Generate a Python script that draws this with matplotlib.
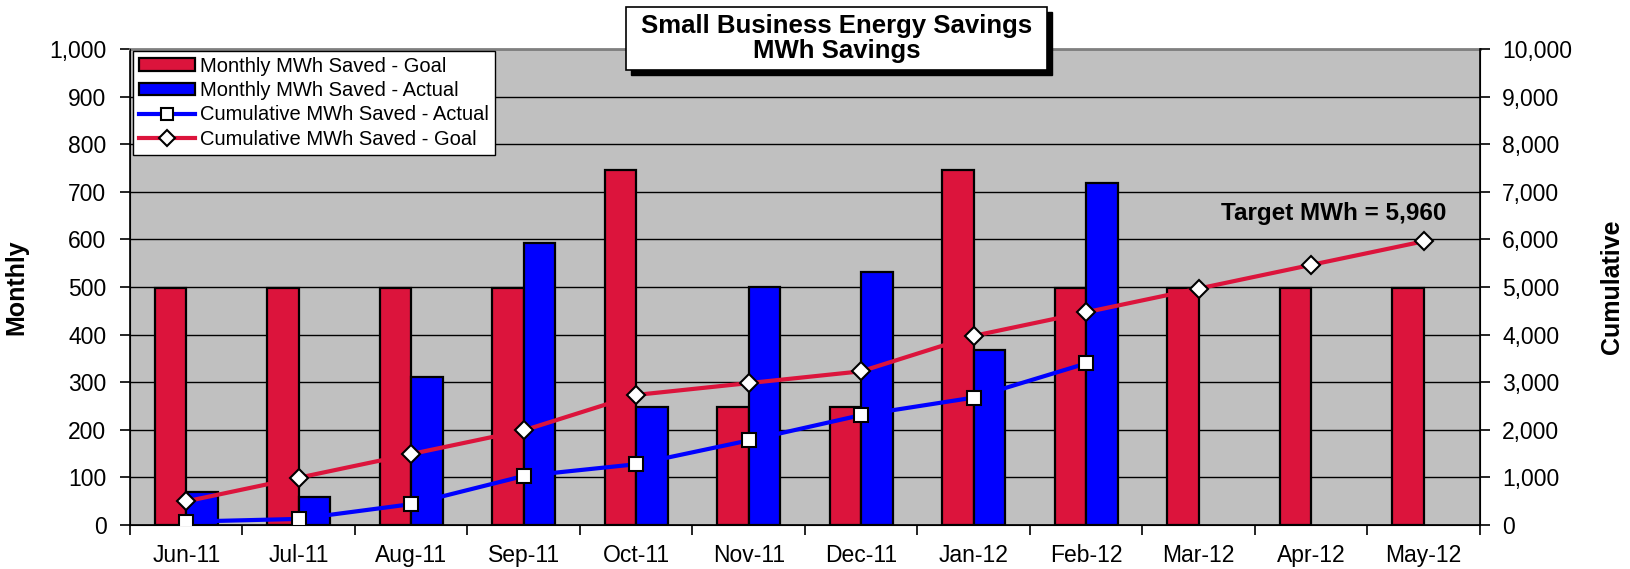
import matplotlib
matplotlib.use("Agg")
import matplotlib.pyplot as plt
from matplotlib.patches import Rectangle
from matplotlib.lines import Line2D
from matplotlib.ticker import FuncFormatter, MultipleLocator
import numpy as np

plt.rcParams['font.family'] = ['Liberation Sans', 'DejaVu Sans']

months = ["Jun-11", "Jul-11", "Aug-11", "Sep-11", "Oct-11", "Nov-11",
          "Dec-11", "Jan-12", "Feb-12", "Mar-12", "Apr-12", "May-12"]
monthly_goal = [497, 497, 497, 497, 745, 248, 248, 745, 497, 497, 497, 497]
monthly_actual = [70, 58, 310, 592, 247, 500, 532, 368, 718]
cum_actual = [70, 128, 438, 1030, 1277, 1777, 2309, 2677, 3395]
cum_goal = [497, 994, 1491, 1988, 2733, 2981, 3229, 3974, 4471, 4968, 5465, 5960]
target_label = "Target MWh = 5,960"

RED = "#DC143C"
BLUE = "#0000FF"

fig = plt.figure(figsize=(16.31, 5.69), dpi=100)
ax = fig.add_axes([130/1631, 1-525/569, (1480-130)/1631, (525-49)/569])
ax.set_facecolor("#C0C0C0")

x = np.arange(len(months))
w = 0.28
ax.bar(x - w/2, monthly_goal, width=w, color=RED, edgecolor="black", linewidth=1.6, zorder=3)
ax.bar(x[:len(monthly_actual)] + w/2, monthly_actual, width=w, color=BLUE, edgecolor="black", linewidth=1.6, zorder=3)

ax.set_xlim(-0.5, len(months) - 0.5)
ax.set_ylim(0, 1000)
ax.yaxis.set_major_locator(MultipleLocator(100))
ax.yaxis.set_major_formatter(FuncFormatter(lambda v, p: f"{int(v):,}"))
ax.set_axisbelow(True)
ax.grid(axis="y", color="black", linewidth=1)
ax.set_xticks(x)
ax.set_xticklabels(months)
ax.set_xticks(np.arange(-0.5, len(months), 1), minor=True)
ax.tick_params(axis="x", which="major", length=0, labelsize=16.5, pad=14)
ax.tick_params(axis="x", which="minor", length=7, width=1.2, direction="out")
ax.tick_params(axis="y", labelsize=16.5, length=7, width=1.2, direction="out", pad=10)
ax.set_ylabel("Monthly", fontsize=18, fontweight="bold", labelpad=15)

ax.spines["top"].set_color("#808080")
ax.spines["top"].set_linewidth(2)
ax.spines["left"].set_linewidth(1.2)
ax.spines["bottom"].set_linewidth(1.2)

ax2 = ax.twinx()
ax2.set_ylim(0, 10000)
ax2.yaxis.set_major_locator(MultipleLocator(1000))
ax2.yaxis.set_major_formatter(FuncFormatter(lambda v, p: f"{int(v):,}"))
ax2.tick_params(axis="y", labelsize=16.5, length=7, width=1.2, direction="out", pad=9)
ax2.set_ylabel("Cumulative", fontsize=18, fontweight="bold", labelpad=20)
ax2.spines["right"].set_linewidth(1.2)
ax2.spines["top"].set_visible(False)

ax2.plot(x[:len(cum_actual)], cum_actual, color=BLUE, linewidth=3, marker="s",
         markersize=10, markerfacecolor="white", markeredgecolor="black", markeredgewidth=1.5, zorder=4)
ax2.plot(x, cum_goal, color=RED, linewidth=3, marker="D",
         markersize=9.5, markerfacecolor="white", markeredgecolor="black", markeredgewidth=1.5, zorder=5)

ax2.annotate(target_label, xy=(x[-1], cum_goal[-1]), xytext=(23, 28), textcoords="offset pixels",
             ha="right", va="center", fontsize=17.5, fontweight="bold")

handles = [
    Rectangle((0, 0), 1, 1, facecolor=RED, edgecolor="black", linewidth=1.6),
    Rectangle((0, 0), 1, 1, facecolor=BLUE, edgecolor="black", linewidth=1.6),
    Line2D([], [], color=BLUE, linewidth=3, marker="s", markersize=9,
           markerfacecolor="white", markeredgecolor="black", markeredgewidth=1.5),
    Line2D([], [], color=RED, linewidth=3, marker="D", markersize=8.5,
           markerfacecolor="white", markeredgecolor="black", markeredgewidth=1.5),
]
labels = ["Monthly MWh Saved - Goal", "Monthly MWh Saved - Actual",
          "Cumulative MWh Saved - Actual", "Cumulative MWh Saved - Goal"]
leg = ax2.legend(handles, labels, loc="upper left", bbox_to_anchor=(0.002, 0.996),
                 fontsize=14.5, frameon=True, fancybox=False, framealpha=1,
                 edgecolor="black", borderpad=0.3, labelspacing=0.26,
                 handlelength=2.8, handleheight=0.6, handletextpad=0.25, borderaxespad=0)
leg.get_frame().set_linewidth(1)
leg.set_zorder(10)

# Title box with drop shadow
bx0, by0, bx1, by1 = 626, 7, 1047, 70
shadow = Rectangle((bx0 + 5, 569 - by1 - 5), bx1 - bx0, by1 - by0, transform=None,
                   facecolor="black", edgecolor="black", zorder=20)
fig.patches.append(shadow)
box = Rectangle((bx0, 569 - by1), bx1 - bx0, by1 - by0, transform=None,
                facecolor="white", edgecolor="black", linewidth=1.2, zorder=21)
fig.patches.append(box)
fig.text((bx0 + bx1) / 2 / 1631, 1 - (by0 + by1) / 2 / 569,
         "Small Business Energy Savings\nMWh Savings", ha="center", va="center",
         fontsize=18.5, fontweight="bold", linespacing=1.05, zorder=22)

fig.savefig("out.png", dpi=100)
